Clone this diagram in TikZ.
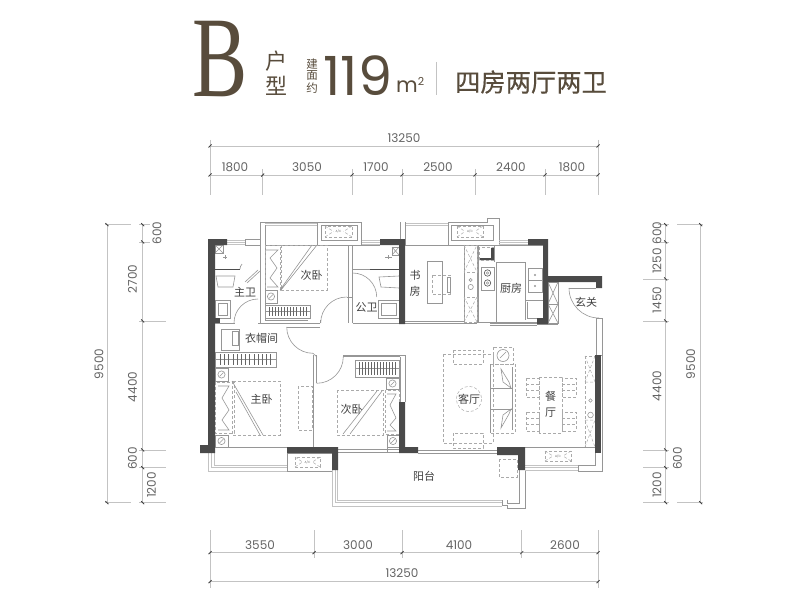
\documentclass[tikz,border=0pt]{standalone}
\usepackage{fontspec}
\setmainfont{Poppins}
\newfontfamily\cjk{Noto Sans CJK SC}
\newfontfamily\cjkmed[FakeBold=0.4]{Noto Sans CJK SC}
\newfontfamily\serifb{Liberation Serif}
\definecolor{titlebrown}{RGB}{88,76,60}
\definecolor{wallgray}{RGB}{74,74,74}
\definecolor{linegray}{RGB}{150,150,150}
\definecolor{furngray}{RGB}{170,170,170}
\definecolor{lightgray2}{RGB}{195,195,195}
\definecolor{textgray}{RGB}{100,100,100}
\usetikzlibrary{positioning}
\tikzset{
  wall/.style={fill=wallgray,draw=none},
  thinline/.style={draw=linegray,line width=.6pt},
  winline/.style={draw=lightgray2,line width=.7pt},
  furn/.style={draw=furngray,line width=.5pt,densely dashed},
  dimline/.style={draw=lightgray2,line width=.8pt},
  dimtick/.style={draw=black!75,line width=.8pt},
  dimtext/.style={text=textgray,font=\fontsize{12}{12}\selectfont,inner sep=0pt},
  roomlabel/.style={text=black!75,font=\cjk\fontsize{11}{11}\selectfont,inner sep=0pt},
  titlecjk/.style={text=titlebrown,font=\cjk\fontsize{#1}{#1}\selectfont,inner sep=0pt}
}
% wardrobe with hangers: x1,y1,x2,y2
\newcommand{\wardrobe}[4]{
  \draw[thinline] (#1,#2) rectangle (#3,#4);
  \draw[thinline] (#1,{(#2+#4)/2}) -- (#3,{(#2+#4)/2});
  \foreach \hx in {1,...,13}
    \draw[draw=black!60,line width=.6pt] ({#1+(#3-#1)*(\hx+.3)/14.6},{#2+2}) -- ({#1+(#3-#1)*(\hx+.3)/14.6},{#4-2});
}
% nightstand: x1,y1,x2,y2
\newcommand{\nightstand}[4]{
  \draw[thinline] (#1,#2) rectangle (#3,#4);
  \draw[thinline] ({(#1+#3)/2},{(#2+#4)/2}) circle (3.6);
  \draw[thinline] ({(#1+#3)/2-2},{(#2+#4)/2+2}) -- ({(#1+#3)/2+2},{(#2+#4)/2-2});
}
% air conditioner: x1,y1,x2,y2
\newcommand{\acunit}[4]{
  \draw[furn] (#1,#2) rectangle (#3,#4);
  \draw[furn] (#1,#2) -- ({(#1+#3)/2-5},{(#2+#4)/2}) (#1,#4) -- ({(#1+#3)/2-5},{(#2+#4)/2});
  \draw[furn] (#3,#2) -- ({(#1+#3)/2+5},{(#2+#4)/2}) (#3,#4) -- ({(#1+#3)/2+5},{(#2+#4)/2});
  \node[text=textgray,font=\fontsize{3}{3}\selectfont,inner sep=0pt] at ({(#1+#3)/2},{(#2+#4)/2}) {A/C};
}
% x-marked box: x1,y1,x2,y2
\newcommand{\xbox}[4]{
  \draw[thinline] (#1,#2) rectangle (#3,#4);
  \draw[thinline] (#1,#2) -- (#3,#4) (#1,#4) -- (#3,#2);
}
\begin{document}
\begin{tikzpicture}[x=1pt,y=-1pt]
\useasboundingbox (0,0) rectangle (800,604);

% title
\node[text=titlebrown,font=\serifb\fontsize{115}{115}\selectfont,inner sep=0pt,xscale=.72] (typeb) at (220,59) {B};
\node[titlecjk=22] (hu) at (276,61) {户};
\node[titlecjk=22] (xing) at (276,86) {型};
\node[titlecjk=11.5] (jian) at (312,64) {建};
\node[titlecjk=11.5] (mian) at (312,76) {面};
\node[titlecjk=11.5] (yue) at (312,88.5) {约};
\node[text=titlebrown,font=\fontsize{54}{54}\selectfont,inner sep=0pt,anchor=base] (area) at (358,96) {119};
\node[text=titlebrown,font=\fontsize{21}{21}\selectfont,inner sep=0pt,anchor=base west] (unit) at (396,92.7) {m\raisebox{7pt}{\fontsize{11}{11}\selectfont 2}};
\draw[draw=lightgray2,line width=.8pt] (436,62) -- (436,95);
\node[text=titlebrown,font=\cjkmed\fontsize{25.3}{25.3}\selectfont,inner sep=0pt] (rooms) at (531,82) {四房两厅两卫};

% dimensions top
\draw[dimline] (210,146) -- (598,146);
\draw[dimline] (210,175) -- (598,175);
\foreach \x in {210,598}{
  \draw[dimline] (\x,140) -- (\x,195);
  \draw[dimtick] (\x-1.5,147.5) -- (\x+1.5,144.5);
}
\foreach \x in {210,262.7,352,402,475,545,598}{
  \draw[dimline] (\x,169) -- (\x,195);
  \draw[dimtick] (\x-1.5,176.5) -- (\x+1.5,173.5);
}
\node[dimtext] (topall) at (404,138) {13250};
\foreach \x/\t in {235/1800,307/3050,376/1700,438/2500,511/2400,572/1800}
  \node[dimtext] at (\x,167) {\t};

% dimensions bottom
\draw[dimline] (210,552.7) -- (598,552.7);
\draw[dimline] (210,581.7) -- (598,581.7);
\foreach \x in {210,314,402,521.7,598}{
  \draw[dimline] (\x,530) -- (\x,558);
  \draw[dimtick] (\x-1.5,554.2) -- (\x+1.5,551.2);
}
\foreach \x in {210,598}{
  \draw[dimline] (\x,558) -- (\x,588);
  \draw[dimtick] (\x-1.5,583.2) -- (\x+1.5,580.2);
}
\node[dimtext] (botall) at (402,573) {13250};
\foreach \x/\t in {260/3550,358/3000,459/4100,565/2600}
  \node[dimtext] at (\x,545) {\t};

% dimensions left
\draw[dimline] (107,224.7) -- (107,502.7);
\draw[dimline] (142.7,224.7) -- (142.7,502.7);
\foreach \y in {224.7,502.7}{
  \draw[dimline] (105,\y) -- (131,\y);
  \draw[dimtick] (105.5,\y-1.5) -- (108.5,\y+1.5);
}
\foreach \y/\x in {224.7/150,242/150,321/166,450/166,467.7/166,502.7/166}{
  \draw[dimline] (139,\y) -- (\x,\y);
  \draw[dimtick] (141.2,\y-1.5) -- (144.2,\y+1.5);
}
\node[dimtext,rotate=90] (lefta) at (99,364) {9500};
\node[dimtext,rotate=90] at (157,233) {600};
\node[dimtext,rotate=90] at (132.5,279) {2700};
\node[dimtext,rotate=90] at (132.5,387) {4400};
\node[dimtext,rotate=90] at (132.5,458.5) {600};
\node[dimtext,rotate=90] at (151.5,485) {1200};

% dimensions right
\draw[dimline] (665.7,224.7) -- (665.7,502.7);
\draw[dimline] (700.7,224.7) -- (700.7,502.7);
\foreach \y in {224.7,502.7}{
  \draw[dimline] (677,\y) -- (703,\y);
  \draw[dimtick] (699.2,\y-1.5) -- (702.2,\y+1.5);
}
\foreach \y/\x in {224.7/658,242/658,279/643,321/643,450/643,467.7/643,502.7/643}{
  \draw[dimline] (\x,\y) -- (669,\y);
  \draw[dimtick] (664.2,\y-1.5) -- (667.2,\y+1.5);
}
\node[dimtext,rotate=90] (righta) at (690.7,364) {9500};
\node[dimtext,rotate=90] at (657,233) {600};
\node[dimtext,rotate=90] at (657,261) {1250};
\node[dimtext,rotate=90] at (657,300) {1450};
\node[dimtext,rotate=90] at (657,386) {4400};
\node[dimtext,rotate=90] at (677.5,458.5) {600};
\node[dimtext,rotate=90] at (657,485) {1200};

% bedroom bay top, air conditioner
\draw[thinline] (245,239) -- (245,245) -- (260,245) -- (260,222) -- (361.7,222) -- (361.7,245) -- (317,245) -- (317,222);
\draw[thinline] (245,239) -- (260,239) (321,225) rectangle (357,240);
\draw[winline] (265,225) -- (317,225) (265,223.5) -- (317,223.5);
\draw[thinline] (265,225) -- (265,245) -- (317,245);
\acunit{325}{226}{352}{237}
\draw[winline] (227,240) -- (245,240) (227,242) -- (245,242) (227,244.5) -- (245,244.5);
\draw[winline] (362,240) -- (380,240) (362,242) -- (380,242) (362,244.5) -- (380,244.5);
\draw[thinline] (361.7,245) -- (380,245);

% master bath
\xbox{215}{245}{223}{253}
\draw[thinline] (223,257) -- (227,257) (225,255) -- (225,259);
\draw[draw=black!70,line width=.8pt] (215,269) -- (240,269);
\draw[thinline] (245,282) -- (258,270) (247,283) -- (260,271) (240,269) arc[start angle=180,end angle=225,radius=7];
\draw[thinline] (216,276) -- (235,276) -- (233,287) -- (218,287) -- cycle;
\draw[thinline] (215,300) rectangle (230,318) (218,303) rectangle (227,315);
\fill[wallgray] (215,318) rectangle (220,323);
\draw[thinline] (215,323) -- (235,323) (258,323) -- (260,323);
\draw[thinline] (234,323) arc[start angle=180,end angle=270,radius=24];
\draw[thinline] (260,245) -- (260,323) (265,245) -- (265,320) -- (308,320);
\draw[thinline] (260,323) -- (320,323) (320,320) -- (320,323);

% small bedroom top
\draw[furn] (265,245) rectangle (280,290);
\draw[furn] (281,245) rectangle (327,290);
\draw[thinline] (266,250) -- (278,250) -- (270,258) -- (277,268) -- (270,278) -- (278,287) -- (267,287);
\draw[thinline] (312,245) -- (280,290) (317,245) -- (281,290);
\nightstand{265}{290}{277}{303}
\wardrobe{265}{305}{310}{318}
\draw[thinline] (320.7,323) arc[start angle=180,end angle=270,radius=26];
\draw[thinline] (348.3,245) -- (348.3,323) (352.7,245) -- (352.7,323) (346.7,297) -- (352.7,297);

% public bath
\draw[draw=black!70,line width=.8pt] (370,269) -- (399,269);
\draw[thinline] (352.7,269) -- (370,269);
\draw[thinline] (352.7,273) arc[start angle=270,end angle=360,radius=24];
\xbox{392}{247}{399}{255}
\draw[thinline] (385,257) -- (392,257) (388,255) -- (388,259);
\draw[thinline] (399,276) -- (379,277) -- (381,287) -- (399,288);
\draw[thinline] (378,300) rectangle (399,318) (381,303) rectangle (396,315);
\draw[thinline] (352.7,323) -- (399,323);

% cloakroom
\draw[thinline] (221,329) rectangle (239,350) (232,331) rectangle (238,345);
\wardrobe{215}{352}{276}{367}
\draw[thinline] (287,327) -- (320,327);
\draw[thinline] (286.7,327) arc[start angle=180,end angle=90,radius=26.3];
\draw[thinline] (313,353.3) -- (317,357);

% master bedroom
\nightstand{215}{368}{228}{381}
\nightstand{215}{435}{228}{447}
\draw[furn] (215,382) rectangle (234,433);
\draw[thinline] (218,386) -- (229,386) -- (222,398) -- (229,410) -- (222,420) -- (229,430) -- (218,430);
\draw[furn] (232,381) rectangle (280,435);
\draw[thinline] (232,381) -- (263,435) (236,392) -- (260,435);
\draw[furn] (298,386) rectangle (312,430);
\draw[thinline] (313,355) -- (313,447) (316,355) -- (316,383);
\draw[thinline] (215,447) -- (287,447);
\draw[winline] (208,453) -- (208,471) -- (287,471) (211.5,453) -- (211.5,467.5) -- (287,467.5) (214,453) -- (214,465) -- (287,465);

% ac box below
\draw[thinline] (287,453) rectangle (332,471);
\acunit{295}{457}{320}{467}

% small bedroom bottom
\draw[thinline] (316.7,383.3) arc[start angle=90,end angle=0,radius=26.6];
\draw[thinline] (343.3,356.7) -- (400,356.7) (343.3,355) -- (405,355);
\draw[thinline] (400,356.7) -- (400,402) (405,355) -- (405,402);
\wardrobe{355}{360}{399}{377}
\nightstand{386}{378}{399}{389}
\nightstand{387}{435}{399}{447}
\draw[furn] (385,390) rectangle (399,434);
\draw[thinline] (387,394) -- (396,394) -- (390,405) -- (396,418) -- (390,425) -- (396,431) -- (387,431);
\draw[furn] (337,390) rectangle (383,435);
\draw[thinline] (382,391) -- (350,434) (377,391) -- (343,434);
\draw[thinline] (338,449) -- (399,449) (338,452.5) -- (399,452.5) (387,447) -- (387,452.5) ;

% balcony
\draw[winline] (332,470) -- (332,506) -- (502,506) (335,470) -- (335,502.5) -- (502,502.5) (337.5,470) -- (337.5,500) -- (502,500);
\draw[thinline] (502,500) -- (502,505) -- (507,505) -- (507,508) -- (525,508) -- (525,470) (519,470) -- (519,503) -- (507,503) -- (507,500);
\draw[furn] (499,459) rectangle (517,477);
\draw[thinline] (418,450) -- (497,450) (418,453) -- (497,453);

% study
\draw[winline] (405,225) -- (448,225) (405,223) -- (448,223);
\draw[thinline] (400,222) -- (400,239) (405,222) -- (405,245) -- (448,245);
\draw[thinline] (448,222) -- (448,245) -- (499,245) -- (499,218) -- (487,218) -- (487,222) -- (448,222);
\draw[thinline] (451,225) rectangle (493,240);
\acunit{457}{226}{483}{237}
\draw[winline] (499,240) -- (528,240) (499,242) -- (528,242) (499,244.5) -- (528,244.5);
\draw[thinline] (427,261) rectangle (442,303);
\draw[furn] (432,275) rectangle (450,294);
\draw[thinline] (447,277) rectangle (450,292);
\draw[thinline] (405,323) -- (464,323) (405,321.5) -- (464,321.5);

% closet between study and kitchen
\draw[thinline] (464,245) -- (464,323) (477,245) -- (477,323) (464,323) -- (477,323);
\draw[furn] (464,245) rectangle (477,272) (464,297) rectangle (477,322);
\draw[furn] (464,245) -- (477,272) (464,272) -- (477,245) (464,297) -- (477,322) (464,322) -- (477,297);
\draw[thinline] (470.7,280) circle (1.6) (470.7,287) circle (2.6);

% kitchen
\draw[thinline] (478,245) -- (478,322) -- (543,322) (478,245) -- (543,245);
\fill[wallgray] (479,258) -- (491,258) -- (491,248) -- (494,247) -- (494,260) -- (479,260) -- cycle;
\draw[furn] (479,247) rectangle (494,260);
\draw[thinline] (494,245) -- (494,262) (496,322) -- (496,262) -- (525,262) -- (525,320);
\draw[thinline] (481,267) rectangle (494,290);
\draw[draw=black!70,line width=.6pt] (487.5,273) circle (3.2) (487.5,283) circle (3.2);
\draw[thinline] (487.5,273) circle (1.3) (487.5,283) circle (1.3);
\draw[thinline] (528,268) rectangle (542,292) (528,280) -- (542,280);
\draw[thinline] (535,275) circle (.8) (535,286) circle (.8);
\draw[thinline] (525,300) -- (543,300) (527,302) -- (527,318) -- (543,318);
\draw[thinline] (490,323) -- (537,323) (490,325) -- (537,325);

% foyer
\xbox{548}{282}{558}{304}
\xbox{548}{304}{558}{323}
\draw[thinline] (537,324.5) -- (558,324.5);
\draw[thinline] (569,288) -- (596,288);
\draw[thinline] (569,288) arc[start angle=180,end angle=90,radius=30];
\draw[thinline] (596,318) rectangle (602,355);

% living room
\draw[furn] (443,354) rectangle (493,443);
\draw[furn] (453,350) rectangle (483,364);
\draw[furn] (453,433) rectangle (483,448);
\draw[furn] (493,347) rectangle (513,364);
\draw[thinline] (503,355.5) circle (6);
\draw[thinline] (500,358) -- (506,352);
\draw[furn] (490,364) rectangle (515,433);
\draw[thinline] (490,364) -- (490,433) (490,388) -- (512,388) (490,409) -- (512,409);
\draw[thinline] (512,367) -- (512,430);
\draw[thinline] (501,369) -- (509,382) -- (511,388) -- (503,382) -- cycle;
\draw[thinline] (501,428) -- (509,414) -- (511,409) -- (503,415) -- cycle;
\draw[furn] (469,399) circle (12.7);

% dining
\draw[furn] (539,377) rectangle (562,433);
\foreach \dy in {378,412}{
  \draw[furn] (526,\dy) rectangle (539,\dy+19);
  \draw[furn] (562,\dy) rectangle (576,\dy+19);
  \draw[furn] (526,\dy+6) -- (539,\dy+6) (526,\dy+12) -- (539,\dy+12);
  \draw[furn] (562,\dy+6) -- (576,\dy+6) (562,\dy+12) -- (576,\dy+12);
}
% cabinet right
\draw[furn] (585,356) rectangle (595,447);
\draw[furn] (585,356) -- (595,382) (585,382) -- (595,356) (585,420) -- (595,447) (585,447) -- (595,420) (585,382) -- (595,382) (585,420) -- (595,420);
\draw[thinline] (590.5,400.5) circle (1.8) (590.5,415) circle (2.8);

% bay bottom right
\draw[thinline] (525,447) -- (595,447) (595,447) -- (595,465) -- (578,465) -- (578,471) -- (602,471) -- (602,355);
\draw[winline] (525,465) -- (578,465) (525,467) -- (578,467) (525,470) -- (578,470);
\acunit{545}{451}{571}{461}

% walls
\path[wall] (208,239) -- (227,239) -- (227,245) -- (215,245) -- (215,453) -- (200,453) -- (200,445) -- (208,445) -- cycle;
\path[wall] (380,239) -- (405,239) -- (405,324) -- (399,324) -- (399,245) -- (380,245) -- cycle;
\path[wall] (528,239) -- (548,239) -- (548,276) -- (602,276) -- (602,288) -- (596,288) -- (596,282) -- (548,282) -- (548,324) -- (537,324) -- (537,318) -- (543,318) -- (543,245) -- (528,245) -- cycle;
\path[wall] (595,355) rectangle (601,453);
\path[wall] (287,447) -- (338,447) -- (338,470) -- (332,470) -- (332,453) -- (287,453) -- cycle;
\path[wall] (399,402) -- (405,402) -- (405,447) -- (418,447) -- (418,453) -- (399,453) -- cycle;
\path[wall] (497,447) -- (525,447) -- (525,470) -- (518,470) -- (518,455) -- (497,455) -- cycle;

% room labels
\node[roomlabel] (zhuwei) at (245,292) {主卫};
\node[roomlabel] (ciwoa) at (311.7,275) {次卧};
\node[roomlabel] (gongwei) at (366.7,307) {公卫};
\node[roomlabel] (yimao) at (261.7,338) {衣帽间};
\node[roomlabel] (shu) at (415,275) {书};
\node[roomlabel] (fang) at (415,291) {房};
\node[roomlabel] (chufang) at (511,288) {厨房};
\node[roomlabel] (xuanguan) at (586,302) {玄关};
\node[roomlabel] (zhuwo) at (261.7,399) {主卧};
\node[roomlabel] (ciwob) at (351.7,409) {次卧};
\node[roomlabel] (keting) at (469,399) {客厅};
\node[roomlabel] (can) at (550.7,396) {餐};
\node[roomlabel] (ting) at (550.7,413) {厅};
\node[roomlabel] (yangtai) at (424,476) {阳台};
\end{tikzpicture}
\end{document}
